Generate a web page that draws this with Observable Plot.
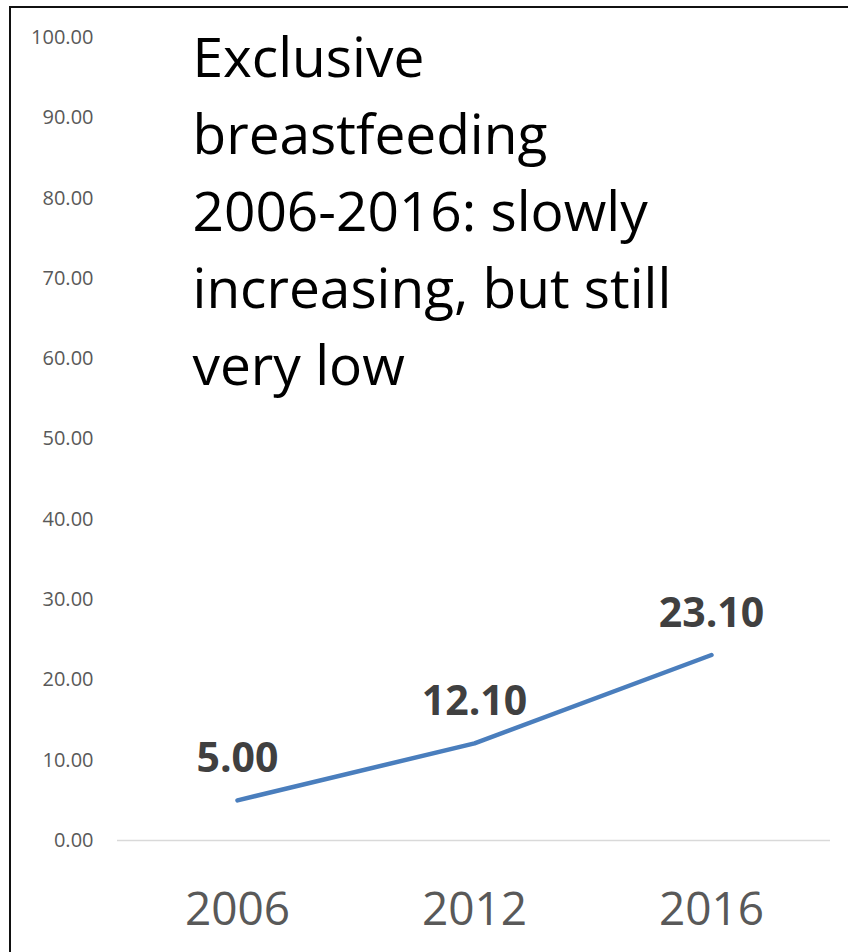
<!DOCTYPE html>
<html>
<head>
<meta charset="utf-8">
<script src="https://cdn.jsdelivr.net/npm/d3@7"></script>
<script src="https://cdn.jsdelivr.net/npm/@observablehq/plot@0.6"></script>
<style>
  html, body { margin: 0; padding: 0; background: #fff; }
  #wrap { position: relative; width: 848px; height: 952px; overflow: hidden; }
  #border { position: absolute; left: 9px; top: 6px; width: 860px; height: 960px;
            border-left: 2.5px solid #111; border-top: 2.5px solid #111; pointer-events: none; }
  svg { display: block; }
</style>
</head>
<body>
<div id="wrap"><div id="border"></div></div>
<script>
const years = ["2006", "2012", "2016"];
const rates = [5.0, 12.1, 23.1];
const yTicks = [0, 10, 20, 30, 40, 50, 60, 70, 80, 90, 100];
const titleLines = ["Exclusive", "breastfeeding", "2006-2016: slowly", "increasing, but still", "very low"];

const data = years.map((y, i) => ({year: y, value: rates[i]}));
const font = "'Open Sans', 'Noto Sans', sans-serif";

const chart = Plot.plot({
  width: 848,
  height: 952,
  marginLeft: 117,
  marginRight: 18,
  marginTop: 37,
  marginBottom: 112,
  style: {fontFamily: font, background: "transparent"},
  x: {type: "point", domain: years, padding: 0.5, label: null},
  y: {domain: [0, 100], label: null},
  marks: [
    Plot.ruleY([0], {stroke: "#d9d9d9", strokeWidth: 1.5}),
    Plot.axisY({ticks: yTicks, tickFormat: d3.format(".2f"), tickSize: 0, tickPadding: 24,
                fontSize: 20, color: "#595959", label: null}),
    Plot.axisX({tickSize: 0, tickPadding: 52, fontSize: 46, color: "#595959", label: null}),
    Plot.line(data, {x: "year", y: "value", stroke: "#4a7ebd", strokeWidth: 4.5,
                     strokeLinecap: "round", strokeLinejoin: "round"}),
    Plot.text(data, {x: "year", y: "value", text: d => d3.format(".2f")(d.value),
                     lineAnchor: "bottom", dy: -28, fontSize: 41, fontWeight: "bold",
                     fill: "#404040"}),
    Plot.text([titleLines.join("\n")], {frameAnchor: "top-left", textAnchor: "start",
                     lineAnchor: "top", dx: 75, dy: -15, fontSize: 55, lineHeight: 1.4,
                     fill: "#000"})
  ]
});
document.getElementById("wrap").prepend(chart);
</script>
</body>
</html>
